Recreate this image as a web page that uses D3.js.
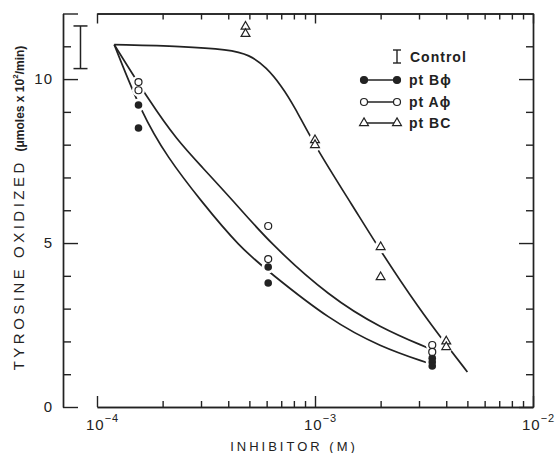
<!DOCTYPE html>
<html>
<head>
<meta charset="utf-8">
<script src="https://cdn.jsdelivr.net/npm/d3@7"></script>
<style>
  body { margin: 0; background: #fff; }
  text { font-family: "Liberation Sans", Arial, sans-serif; fill: #222; }
</style>
</head>
<body>
<svg id="chart" width="557" height="453"></svg>
<script>
// values: inhibitor (M) vs tyrosine oxidized (umoles x 10^2/min)
var bphiX = [1.55e-4, 1.55e-4, 6.1e-4, 6.1e-4, 3.45e-3, 3.45e-3, 3.45e-3];
var bphiY = [9.21, 8.51, 4.27, 3.78, 1.49, 1.37, 1.25];
var aphiX = [1.55e-4, 1.55e-4, 6.1e-4, 6.1e-4, 3.45e-3, 3.45e-3];
var aphiY = [9.91, 9.66, 5.52, 4.51, 1.89, 1.68];
var bcX = [4.8e-4, 4.8e-4, 1e-3, 1e-3, 2e-3, 2e-3, 4e-3, 4e-3];
var bcY = [11.6, 11.38, 8.14, 7.99, 4.88, 3.96, 2.0, 1.83];

// hand drawn curves through the points
var bphiCurveX = [1.2e-4, 1.6e-4, 2.1e-4, 3e-4, 4.5e-4, 6.2e-4, 1.17e-3, 2e-3, 3.3e-3];
var bphiCurveY = [11.05, 8.96, 7.62, 6.28, 4.88, 4.1, 2.65, 1.83, 1.34];
var aphiCurveX = [1.2e-4, 1.75e-4, 2.33e-4, 3e-4, 4.2e-4, 6.2e-4, 1.17e-3, 2e-3, 3.3e-3];
var aphiCurveY = [11.05, 9.3, 8.14, 7.35, 6.3, 5.0, 3.35, 2.41, 1.8];
var bcCurveX = [1.2e-4, 2.5e-4, 4e-4, 5e-4, 6e-4, 7e-4, 8e-4, 1e-3, 1.5e-3, 2e-3, 3e-3, 4e-3, 5e-3];
var bcCurveY = [11.05, 11.0, 10.9, 10.75, 10.35, 9.8, 9.2, 7.95, 6.1, 4.75, 3.0, 1.9, 1.07];

// control bar (mean +/- range), drawn left of the first decade
var controlX = 8.4e-5;
var controlMean = 10.97;
var controlErr = 0.65;

var yTicks = [0, 1, 2, 3, 4, 5, 6, 7, 8, 9, 10, 11, 12];
var yMajor = [0, 5, 10, 12];
var yLabels = [0, 5, 10];
var xMajor = [1e-4, 1e-3, 1e-2];
var xExp = ['\u2212' + '4', '\u2212' + '3', '\u2212' + '2'];

var svg = d3.select('#chart');
var ink = '#222';

var x = d3.scaleLog().domain([1e-4, 1e-2]).range([97, 533]);
var y = d3.scaleLinear().domain([0, 12]).range([407, 13.5]);

var xMinor = x.ticks().filter(function (d) {
    var l = Math.log10(d);
    return Math.abs(l - Math.round(l)) > 1e-6;
});
var yMinor = yTicks.filter(d => yMajor.indexOf(d) < 0);

function styleAxis(g) {
    g.selectAll('path, line').attr('stroke', ink).attr('stroke-width', 1.4);
    g.selectAll('text').remove();
}

// frame: bottom, top, left, right, ticks pointing inward
svg.append('g').attr('transform', 'translate(0,' + y(0) + ')')
    .call(d3.axisBottom(x).tickValues(xMinor).tickSizeInner(-6).tickSizeOuter(0)).call(styleAxis);
svg.append('g').attr('transform', 'translate(0,' + y(0) + ')')
    .call(d3.axisBottom(x).tickValues(xMajor).tickSizeInner(-11).tickSizeOuter(0)).call(styleAxis);
svg.append('g').attr('transform', 'translate(0,' + y(12) + ')')
    .call(d3.axisTop(x).tickValues(xMinor).tickSizeInner(-6).tickSizeOuter(0)).call(styleAxis);
svg.append('g').attr('transform', 'translate(0,' + y(12) + ')')
    .call(d3.axisTop(x).tickValues(xMajor).tickSizeInner(-10).tickSizeOuter(0)).call(styleAxis);

svg.append('g').attr('transform', 'translate(63,0)')
    .call(d3.axisLeft(y).tickValues(yMinor).tickSizeInner(-8).tickSizeOuter(0)).call(styleAxis);
svg.append('g').attr('transform', 'translate(63,0)')
    .call(d3.axisLeft(y).tickValues(yMajor).tickSizeInner(-15).tickSizeOuter(0)).call(styleAxis);
svg.append('g').attr('transform', 'translate(' + x(1e-2) + ',0)')
    .call(d3.axisRight(y).tickValues(yMinor).tickSizeInner(-7).tickSizeOuter(0)).call(styleAxis);
svg.append('g').attr('transform', 'translate(' + x(1e-2) + ',0)')
    .call(d3.axisRight(y).tickValues(yLabels).tickSizeInner(-14).tickSizeOuter(0)).call(styleAxis);

// tick labels
svg.selectAll('.ylab')
    .data(yLabels)
    .enter().append('text')
    .attr('class', 'ylab')
    .attr('x', 53)
    .attr('y', d => y(d) + 5)
    .attr('text-anchor', 'end')
    .style('font-size', '15px')
    .style('letter-spacing', '1px')
    .text(d => d);

var xl = svg.selectAll('.xlab')
    .data(xMajor)
    .enter().append('text')
    .attr('class', 'xlab')
    .attr('x', d => x(d) - 11)
    .attr('y', 430)
    .style('font-size', '15px');
xl.append('tspan').style('letter-spacing', '1px').text('10');
xl.append('tspan').attr('dy', -8).style('font-size', '11px').style('letter-spacing', '1px')
    .text((d, i) => xExp[i]);

// axis titles
svg.append('text')
    .attr('x', 294)
    .attr('y', 451)
    .attr('text-anchor', 'middle')
    .style('font-size', '13px')
    .style('letter-spacing', '3px')
    .text('INHIBITOR (M)');

var yt = svg.append('text')
    .attr('transform', 'translate(24,208) rotate(-90)')
    .attr('text-anchor', 'middle')
    .style('font-size', '15px');
yt.append('tspan').style('letter-spacing', '3.5px').text('TYROSINE OXIDIZED ');
yt.append('tspan').style('font-size', '12px').style('font-weight', 'bold').text('(\u03bcmoles x 10');
yt.append('tspan').attr('dy', -6).style('font-size', '8px').style('font-weight', 'bold').text('2');
yt.append('tspan').attr('dy', 6).style('font-size', '12px').style('font-weight', 'bold').text('/min)');

// curves
var line = d3.line()
    .x(d => x(d[0]))
    .y(d => y(d[1]))
    .curve(d3.curveBasis);

function pairs(xs, ys) { return xs.map((v, i) => [v, ys[i]]); }

[[bphiCurveX, bphiCurveY], [aphiCurveX, aphiCurveY], [bcCurveX, bcCurveY]].forEach(function (c) {
    svg.append('path')
        .attr('d', line(pairs(c[0], c[1])))
        .attr('fill', 'none')
        .attr('stroke', ink)
        .attr('stroke-width', 1.7);
});

// control bar
var cx = x(controlX);
svg.append('line').attr('x1', cx).attr('x2', cx)
    .attr('y1', y(controlMean + controlErr)).attr('y2', y(controlMean - controlErr))
    .attr('stroke', ink).attr('stroke-width', 1.5);
[controlMean + controlErr, controlMean - controlErr].forEach(function (v) {
    svg.append('line').attr('x1', cx - 7).attr('x2', cx + 7)
        .attr('y1', y(v)).attr('y2', y(v))
        .attr('stroke', ink).attr('stroke-width', 1.5);
});

// white gaps in the lines around each point
var allPts = pairs(bphiX, bphiY).concat(pairs(aphiX, aphiY), pairs(bcX, bcY));
svg.selectAll('.halo')
    .data(allPts)
    .enter().append('circle')
    .attr('class', 'halo')
    .attr('cx', d => x(d[0]))
    .attr('cy', d => y(d[1]))
    .attr('r', 6.5)
    .attr('fill', '#fff');

var tri = d3.symbol().type(d3.symbolTriangle).size(34);

svg.selectAll('.bphi')
    .data(pairs(bphiX, bphiY))
    .enter().append('circle')
    .attr('class', 'bphi')
    .attr('cx', d => x(d[0]))
    .attr('cy', d => y(d[1]))
    .attr('r', 3.8)
    .attr('fill', ink);

svg.selectAll('.aphi')
    .data(pairs(aphiX, aphiY))
    .enter().append('circle')
    .attr('class', 'aphi')
    .attr('cx', d => x(d[0]))
    .attr('cy', d => y(d[1]))
    .attr('r', 3.5)
    .attr('fill', '#fff')
    .attr('stroke', ink)
    .attr('stroke-width', 1.2);

svg.selectAll('.bc')
    .data(pairs(bcX, bcY))
    .enter().append('path')
    .attr('class', 'bc')
    .attr('transform', d => 'translate(' + x(d[0]) + ',' + y(d[1]) + ')')
    .attr('d', tri)
    .attr('fill', '#fff')
    .attr('stroke', ink)
    .attr('stroke-width', 1.2);

// legend
var lg = svg.append('g');
lg.append('line').attr('x1', 397).attr('x2', 397).attr('y1', 50).attr('y2', 63).attr('stroke', ink).attr('stroke-width', 1.4);
lg.append('line').attr('x1', 393).attr('x2', 401).attr('y1', 50).attr('y2', 50).attr('stroke', ink).attr('stroke-width', 1.4);
lg.append('line').attr('x1', 393).attr('x2', 401).attr('y1', 63).attr('y2', 63).attr('stroke', ink).attr('stroke-width', 1.4);
lg.append('text').attr('x', 410).attr('y', 62).style('font-size', '14px').style('font-weight', 'bold')
    .style('letter-spacing', '1px').text('Control');

var legendRows = [
    { name: 'pt B\u03d5', y: 80, kind: 'filled' },
    { name: 'pt A\u03d5', y: 102, kind: 'open' },
    { name: 'pt BC', y: 123, kind: 'tri' }
];
legendRows.forEach(function (r) {
    lg.append('line').attr('x1', 364).attr('x2', 397).attr('y1', r.y).attr('y2', r.y)
        .attr('stroke', ink).attr('stroke-width', 1.5);
    [364, 397].forEach(function (px) {
        if (r.kind === 'tri') {
            lg.append('path').attr('transform', 'translate(' + px + ',' + r.y + ')').attr('d', tri)
                .attr('fill', '#fff').attr('stroke', ink).attr('stroke-width', 1.2);
        } else {
            lg.append('circle').attr('cx', px).attr('cy', r.y).attr('r', 3.5)
                .attr('fill', r.kind === 'filled' ? ink : '#fff')
                .attr('stroke', ink).attr('stroke-width', 1.2);
        }
    });
    lg.append('text').attr('x', 409).attr('y', r.y + 5).style('font-size', '14px').style('font-weight', 'bold')
        .style('letter-spacing', '1px').text(r.name);
});
</script>
</body>
</html>
